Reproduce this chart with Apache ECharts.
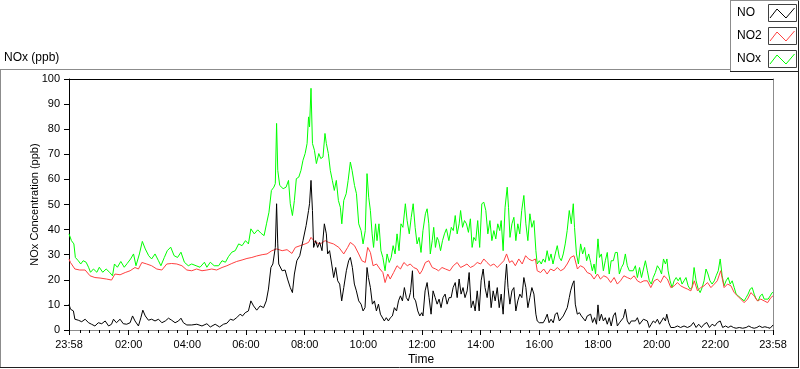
<!DOCTYPE html>
<html>
<head>
<meta charset="utf-8">
<script src="https://cdn.jsdelivr.net/npm/echarts@6/dist/echarts.min.js"></script>
<style>
html,body{margin:0;padding:0;background:#fff;}
#chart{width:800px;height:369px;}
</style>
</head>
<body>
<div id="chart"></div>
<script>
// Time is stored as minutes elapsed since 23:58 (start of the record); values in ppb.
const seriesNames = ['NO', 'NO2', 'NOx'];
const seriesColors = ['#000000', '#ff4040', '#00ff00'];
const xTickLabels = ['23:58','02:00','04:00','06:00','08:00','10:00','12:00','14:00','16:00','18:00','20:00','22:00','23:58'];
const yTicks = [0,10,20,30,40,50,60,70,80,90,100];

const NOx = [[0,38.3],[5,35.6],[10,34.3],[13,28.9],[19,27.6],[24,26.3],[29,27.6],[35,27],[40,25],[44,23],[50,24.3],[57,23],[62,25],[69,23],[76,24.3],[83,23],[89,21.6],[93,26.3],[99,25],[106,27.3],[113,25],[119,26.5],[126,28.3],[132,30.3],[137,25.6],[144,30.3],[150,35.3],[156,32.3],[163,29.6],[169,28.3],[176,30.3],[183,27.6],[188,25.6],[195,28.9],[201,31.6],[208,33],[215,29.6],[222,28.9],[229,31],[236,27],[244,25.6],[251,26.3],[260,25.6],[268,25],[277,27],[282,25],[289,27],[297,25.6],[306,25.6],[313,27.6],[320,27],[326,29.2],[333,31],[340,31.6],[347,34.3],[354,33.6],[361,35.6],[367,34.3],[372,40.3],[379,38.3],[386,39.9],[393,38.5],[399,37.6],[404,42.3],[409,46.9],[414,55.6],[419,56.9],[422,58.3],[424.6,82.3],[427,63.6],[431,57.6],[438,56.3],[444,56.9],[449,59.6],[452.6,50.3],[457,45.6],[461,51.6],[465,60.3],[470,60.9],[474.5,63.6],[478.6,67.6],[483,70.3],[487,74.3],[490,84.9],[492,80.9],[495,96.3],[498,74.3],[502,71.6],[506,66.3],[511,70.3],[515,68.3],[519.5,68.9],[523.6,78.3],[526.4,74.3],[530.5,70.3],[534.5,63.6],[538.6,59.6],[542.7,55.6],[546.8,59.6],[551,51.6],[555,48.9],[558,42.3],[562,51.6],[567,54.3],[571,59.6],[575.5,66.9],[579,63.6],[584,57.6],[588,54.3],[592.6,42.3],[597.4,39.6],[601.5,34.3],[606,39.6],[609.6,62.3],[613,52.9],[616.5,47.6],[620,38.3],[623,32.9],[627,42.3],[630,35.6],[634,42.3],[638,31.6],[642,28.9],[646.5,23.6],[650.6,30.3],[655,26.9],[659,28.9],[663,33.6],[667,30.3],[671,38.3],[675,31.6],[679,42.3],[683,40.9],[688,50.3],[691.6,43.6],[696,38.3],[700,44.9],[704,50.3],[708,40.9],[712,34.3],[716,36.9],[720,30.9],[724,39.6],[729,46.3],[732.5,48.3],[736,42.3],[739,30.3],[743,35.6],[746,40.9],[749.5,32.9],[753,36.9],[756,35.6],[760,31.6],[764,35.6],[768,38.3],[772,40.3],[777,35.6],[782,40.9],[786,39.6],[790,45.6],[794,38.3],[798,42.3],[801,47.6],[805,40.9],[809,43.6],[813,42.3],[817,38.9],[821,44.3],[824.6,32.9],[828,36.9],[832,35.6],[836,43.6],[840,32.9],[844.4,50.3],[848.5,50.9],[852.6,47.6],[856.7,38.3],[861,43.6],[865,35.6],[869,39.6],[873,36.3],[877,42.3],[881,39.6],[884,43.6],[888,31.6],[892,48.9],[896.3,56.9],[899,48.9],[902,36.9],[906,42.3],[910,44.9],[914,35.6],[918,42.3],[922,38.3],[926,47.6],[930.4,53.6],[934.5,42.3],[938.6,35.6],[942.7,46.3],[946.8,40.9],[951,43.6],[955,31.6],[957.7,26.3],[962,27.6],[966,26.3],[970,28.3],[974,27],[978,31.6],[982,27.6],[986,30.3],[990,26.3],[994.6,30.3],[998.7,33.6],[1003,28.9],[1007,27.6],[1011,30.3],[1015,34.3],[1019,39.6],[1023.3,47.6],[1027.4,42.3],[1031.5,50.3],[1034,40.9],[1038,30.3],[1042,26.3],[1046.5,34.3],[1050.6,30.3],[1054.7,32.9],[1058.8,27.6],[1063,30.3],[1067,26.9],[1070.5,23.6],[1074,26.3],[1077,22.3],[1082,36.3],[1085,28.9],[1089,30.3],[1093,23.6],[1097,27.6],[1101,30.9],[1105,22.3],[1109,27.6],[1113.4,27.6],[1117.5,30.9],[1121.6,30.9],[1125.7,22.3],[1130,24.9],[1134,26.3],[1138,30.3],[1142,25.6],[1146,23.6],[1150,24.3],[1154,23.6],[1158.5,25.6],[1162.6,20.9],[1167,24.9],[1171,20.9],[1175,20.9],[1179,27.6],[1183,23.6],[1187,19.6],[1191,18.3],[1195,20.9],[1199.4,22.9],[1203.5,25.6],[1208,24.3],[1212,22.3],[1216,28.3],[1220,26.3],[1223,28.3],[1225.4,23.6],[1229.5,19.6],[1233.6,16.9],[1237.7,19.6],[1242,20.9],[1246,19.6],[1250,20.9],[1254,18.3],[1258,19.6],[1262,20.9],[1266.4,17.6],[1270.4,16.3],[1274.5,16.9],[1278.6,24.9],[1282.7,19.6],[1287,16.3],[1291,14.9],[1295,16.9],[1299,19.6],[1303,24.3],[1307,22.3],[1311,19.6],[1315.5,18.3],[1320,19.6],[1323.7,21.6],[1328,23.6],[1332,28.3],[1336,21.6],[1340,17.6],[1344,19.6],[1348.3,20.9],[1352.4,18.3],[1356.5,19.6],[1360.6,16.9],[1364.6,14.3],[1368.7,13.6],[1373,12.9],[1377,12.3],[1381,11.6],[1385,12.9],[1389,14.3],[1393.3,16.3],[1397.4,16.9],[1401.5,14.3],[1405.6,12.3],[1409.7,11.6],[1413.8,13.6],[1418,14.3],[1422,12.3],[1426,11.6],[1430,12.3],[1434.3,13.6],[1438.4,14.9],[1440,15]];

const NO2 = [[0,28.3],[3,26.9],[12,24.3],[22,23.9],[33,23.9],[43,21.6],[53,20.9],[63.5,20.7],[77,20.3],[87,19.9],[94,22.3],[104.5,22],[115,22.9],[125,23.6],[135,24.9],[142,24.3],[149,26.9],[159,26.3],[169,25.6],[179.5,24.3],[190,23.9],[200,26.3],[210,26.5],[220.5,26.3],[231,25.6],[241,23.9],[251,23.6],[261,24.3],[272,23.6],[282,23.9],[292,24.3],[302,23.9],[313,24.9],[323,25.6],[333,26.5],[343,27.3],[354,27.9],[364,28.5],[374,28.9],[384,29.5],[395,30],[405,30.3],[415,31.6],[425,32.3],[436,31.6],[446,32],[456,30.5],[463,32.9],[473,33.6],[483,34.3],[490,34.9],[495,36.9],[504,34.9],[514,34.3],[524,35.6],[531,34.9],[541,34.3],[552,32.9],[562,30.3],[570,32.9],[575.5,34.9],[584,33.6],[592.6,30.3],[599,27.6],[606,26.9],[611,32.9],[616.5,30.9],[622,25.6],[629,26.3],[636,24.3],[642,22.9],[646.5,18.9],[652,22.3],[657,20.3],[664,22.9],[671,25.6],[678,24.3],[685,26.9],[692,25.6],[698,26.3],[705,24.9],[712,24.3],[717.5,22.3],[722,23.6],[729,26.9],[736,27.6],[743,24.9],[750,24.3],[756,23.6],[763,24.9],[770,24.3],[779,23.6],[786,25.6],[794,26.9],[801,24.9],[808,25.6],[814,26.3],[821,24.9],[828,25.6],[835,26.9],[842,26.3],[848.5,28.3],[855,26.9],[862,25.6],[869,26.3],[876,24.9],[883,26.3],[889.5,27.6],[895,30.3],[901,26.9],[906.5,27.6],[913,25.6],[920,28.3],[927,26.3],[934,29.6],[940,28.3],[947.5,27.6],[954,28.3],[957.7,23.6],[964.6,22.9],[971,24.3],[978,22.3],[985,24.3],[992,23.6],[999,24.9],[1005.5,23.6],[1012,24.3],[1019,26.3],[1026,28.9],[1033,29.6],[1040,24.3],[1046,25.6],[1053,24.9],[1060,22.9],[1067,22.3],[1074,20.3],[1081,22.3],[1087,20.3],[1094,21.6],[1101,20.9],[1108,18.9],[1115,20.9],[1121.6,18.3],[1128,19.6],[1135,21.6],[1142,20.9],[1149,20.3],[1156,21.6],[1162.6,19.6],[1169,18.9],[1176,19.6],[1183,19.6],[1190,16.9],[1197,19.6],[1203.5,20.3],[1210,18.9],[1217,21.6],[1224,20.3],[1231,16.9],[1238,17.6],[1244.5,18.9],[1251,17.6],[1258,16.9],[1265,16.3],[1272,15.6],[1279,19.6],[1285.5,15.6],[1292,16.9],[1299,17.6],[1306,18.9],[1313,16.9],[1320,18.3],[1326,19.6],[1333,23.6],[1340,16.9],[1347,18.3],[1354,17.6],[1360.6,14.9],[1367.4,13.6],[1374,12.3],[1381,10.9],[1388,12.3],[1394.7,14.9],[1401.5,13.6],[1408,11.6],[1415,12.3],[1422,11.6],[1429,10.9],[1435.6,12.9],[1440,13.6]];

const NO = [[0,10.3],[3,8.3],[9,7.6],[12,4.3],[19,3.9],[26,3.3],[33,4.3],[40,2.9],[46,2.3],[53,1.6],[60,2.9],[67,2.5],[74,3.6],[81,1.6],[87,2.3],[91,4.3],[97,2.9],[104.5,4.3],[111,2.5],[118,2.3],[125,2.9],[130,5.6],[135,3.6],[142,1.6],[147,4.9],[151,7.9],[156,5.6],[162.5,3.9],[169,4.3],[176,3.6],[183,4.3],[190,2.9],[197,3.6],[203.5,4.7],[210,3.9],[217,2.9],[224,3.6],[229,4.7],[234,2.9],[241,2],[251,2],[261.5,2.3],[272,1.6],[282,2.5],[289,1.2],[299,2.3],[308,1.2],[316,2.3],[323,2.7],[330,4.3],[336,3.9],[343,4.9],[350,6.3],[355,5.6],[360.5,6.9],[367,7.6],[372,11.6],[377.5,9.6],[384,7.9],[391,9.6],[398,8.9],[403.5,11.6],[408,16.3],[413,24.9],[417,26.3],[422,32.9],[424.6,50.3],[427,34.3],[429,26.3],[436,23.6],[442,23.9],[447,20.3],[452.6,16.9],[457,14.9],[461,22.3],[466,27.6],[472,29.6],[478.6,35.6],[485,41.6],[490,47.6],[492,50.3],[495,59.6],[498,47.6],[500.4,32.9],[504.5,35.6],[508.6,32.9],[512.7,34.9],[517.5,31.6],[522.3,42.3],[526.4,38.3],[529,30.3],[533,31.6],[537.3,26.3],[541.4,20.9],[545.5,24.9],[549.6,19.6],[553.7,18.3],[557.8,11.6],[562,16.9],[567.3,23.6],[572,27.6],[575.5,28.9],[579.6,24.9],[583.7,18.3],[587.8,15.6],[592.6,11.6],[597.4,10.3],[601.5,7.6],[605.5,8.9],[609.6,24.9],[612.4,20.9],[616.5,16.9],[620.6,10.3],[624.7,11.6],[628.8,7.6],[633,10.3],[637,6.3],[641,6.9],[645,3.6],[649,4.9],[653.3,3.6],[657.4,4.9],[661.5,5.6],[665.6,8.9],[670,7.6],[674,11.6],[678,13.6],[682,11.6],[686,16.9],[690,12.9],[694,11.6],[698.4,14.9],[702.5,23.6],[705,12.9],[709,11.6],[713.4,7.6],[717.5,5.6],[721.6,6.9],[724,5.6],[728.4,15.6],[732.5,18.9],[736.5,12.9],[740.6,6.3],[744.7,15.6],[749,12.9],[753,10.3],[757,12.3],[761,8.9],[765,12.9],[769.3,14.3],[773.4,10.3],[777.5,12.9],[781.6,12.9],[785.7,16.9],[790,18.9],[794,12.9],[798,20.3],[802,14.3],[806,16.9],[810,12.9],[814.4,15.6],[818.5,22.9],[822.6,8.9],[826.7,11.6],[830.8,7.6],[835,15.6],[839,7.6],[843,19.6],[847.2,24.3],[851,16.9],[855.3,12.9],[859.4,19.6],[863.5,8.9],[867.6,15.6],[871.7,11.6],[876,16.9],[880,8.9],[884,14.3],[888,6.3],[892.2,19.6],[895,26.3],[898,16.9],[901.8,10.3],[906,15.6],[910,16.9],[914,7.6],[918,11.6],[922.2,14.3],[926.3,12.9],[930.4,20.9],[934.5,16.9],[938.6,8.9],[942.7,12.9],[946.8,16.9],[951,14.3],[955,6.3],[957.7,3.6],[962,2.9],[966,3.6],[970,2.9],[974,4.3],[978.2,6.3],[982,2.9],[986,4.3],[990.5,2.9],[994.6,6.3],[998.7,6.9],[1003,3.6],[1007,3.6],[1011,5.6],[1015,6.3],[1019.2,8.9],[1023.3,12.9],[1026,15.6],[1030,18.3],[1033,19.6],[1035.6,10.3],[1039.7,6.3],[1044,6.9],[1048,5.6],[1052,6.3],[1056,3.6],[1060,5.6],[1064,4.9],[1067,6.3],[1071,3],[1075,4.9],[1079,2.3],[1082,10],[1085,3.6],[1089,6.3],[1093,3.6],[1097,4.9],[1101,2.3],[1105,4.9],[1109,1.6],[1113.4,5.6],[1117.5,6.9],[1121.6,1.6],[1126,2.9],[1130,3.6],[1134,4.9],[1138,8.3],[1142,3.6],[1146,2.3],[1150,3.6],[1154,2.9],[1158.5,3.6],[1162.6,4.9],[1167,2.3],[1171,1.6],[1175,4.3],[1179,4.9],[1183,3.6],[1187,1],[1191,2.3],[1195,3.6],[1199.4,2.9],[1203.5,4.3],[1208,2.3],[1212,3.6],[1216,4.9],[1220,3.6],[1222.7,6.3],[1226.8,2.9],[1231,1],[1238,1],[1244.5,1.6],[1251,1],[1258,1.6],[1265,1],[1271.8,1.6],[1277.3,3],[1282.7,1],[1288,2.3],[1293.7,1],[1299,2.3],[1304.6,3],[1310,1],[1315.5,2.3],[1321,1.6],[1326.4,3],[1332,3.6],[1337,1],[1343,1.6],[1348.3,1],[1354,1.6],[1359,1],[1364.6,0.7],[1371,1],[1378,0.7],[1385,1],[1390.6,1.6],[1396,1],[1401.5,0.7],[1407,1],[1412,1.6],[1418,1],[1423.4,1.3],[1429,1],[1434,0.7],[1438.4,1.6],[1440,2]];

// ---- axis helpers ----
const START_CLOCK = 23 * 60 + 58; // record starts at 23:58
const SPAN = 1440;
function clockToElapsed(str, idx, arr) {
  if (idx === 0) return 0;
  if (idx === arr.length - 1) return SPAN;
  const [h, m] = str.split(':').map(Number);
  return ((h * 60 + m) - START_CLOCK + SPAN) % SPAN;
}
const majorTicks = xTickLabels.map(clockToElapsed);
const minorTicks = [];
for (let c = 20; c < SPAN; c += 20) {
  if (c % 120 !== 0) minorTicks.push((c - START_CLOCK + SPAN) % SPAN);
}
minorTicks.sort((a, b) => a - b);
function labelFor(v) {
  const i = majorTicks.findIndex(t => Math.abs(t - v) < 0.5);
  return i >= 0 ? xTickLabels[i] : '';
}

const FONT = 'Liberation Sans';
const chart = echarts.init(document.getElementById('chart'), null, {renderer: 'canvas'});

const dataSets = {NO: NO, NO2: NO2, NOx: NOx};
const drawOrder = ['NOx', 'NO2', 'NO'];

// legend drawn as graphic (LabVIEW style box with plot samples)
const legendGraphics = [];
seriesNames.forEach((name, i) => {
  const y = 4 + i * 23;
  legendGraphics.push({type: 'text', left: 737, top: y + 3, style: {text: name, fill: '#000', font: '12px ' + FONT}});
  legendGraphics.push({type: 'rect', shape: {x: 768.5, y: y + 0.5, width: 28, height: 17}, style: {fill: '#fff', stroke: '#404040', lineWidth: 1}});
  legendGraphics.push({type: 'polyline', shape: {points: [[770, y + 14], [777, y + 5], [786, y + 14], [794.5, y + 4]]}, style: {stroke: seriesColors[i], lineWidth: 1, fill: null}});
});

const frame = [
  {type: 'line', shape: {x1: 0, y1: 69.5, x2: 730, y2: 69.5}, style: {stroke: '#8c8c8c', lineWidth: 1}},
  {type: 'line', shape: {x1: 0.5, y1: 69.5, x2: 0.5, y2: 368}, style: {stroke: '#8c8c8c', lineWidth: 1}},
  {type: 'line', shape: {x1: 0, y1: 367.5, x2: 799, y2: 367.5}, style: {stroke: '#202020', lineWidth: 1}},
  {type: 'line', shape: {x1: 798.5, y1: 0, x2: 798.5, y2: 368}, style: {stroke: '#202020', lineWidth: 1}},
  {type: 'line', shape: {x1: 730.5, y1: 0, x2: 730.5, y2: 72}, style: {stroke: '#8c8c8c', lineWidth: 1}},
  {type: 'line', shape: {x1: 730, y1: 0.5, x2: 799, y2: 0.5}, style: {stroke: '#8c8c8c', lineWidth: 1}},
  {type: 'line', shape: {x1: 730, y1: 71.5, x2: 799, y2: 71.5}, style: {stroke: '#202020', lineWidth: 1}}
];

const option = {
  animation: false,
  backgroundColor: '#ffffff',
  textStyle: {fontFamily: FONT},
  title: {text: 'NOx (ppb)', left: 4, top: 52, padding: 0, textStyle: {fontSize: 12, fontWeight: 'normal', color: '#000', fontFamily: FONT}},
  grid: {left: 69, right: 27, top: 79, bottom: 39, containLabel: false, outerBoundsMode: 'none'},
  xAxis: [
    {
      type: 'value', min: 0, max: SPAN, position: 'bottom',
      name: 'Time', nameLocation: 'middle', nameGap: 24, nameMoveOverlap: false,
      nameTextStyle: {fontSize: 12, color: '#000', fontFamily: FONT},
      axisLine: {show: true, onZero: false, lineStyle: {color: '#8c8c8c', width: 1}},
      axisTick: {show: true, customValues: majorTicks, length: 5, lineStyle: {color: '#000', width: 1}},
      axisLabel: {show: true, customValues: majorTicks, formatter: labelFor, fontSize: 11, color: '#000', margin: 9, fontFamily: FONT},
      splitLine: {show: false}
    },
    {
      type: 'value', min: 0, max: SPAN, position: 'bottom',
      axisLine: {show: false, onZero: false},
      axisTick: {show: true, customValues: minorTicks, length: 3, lineStyle: {color: '#000', width: 1}},
      axisLabel: {show: false},
      splitLine: {show: false}
    },
    {
      type: 'value', min: 0, max: SPAN, position: 'top',
      axisLine: {show: true, onZero: false, lineStyle: {color: '#000', width: 1}},
      axisTick: {show: false}, axisLabel: {show: false}, splitLine: {show: false}
    }
  ],
  yAxis: [
    {
      type: 'value', min: 0, max: 100, interval: 10,
      name: 'NOx Concentration (ppb)', nameLocation: 'middle', nameGap: 29, nameMoveOverlap: false,
      nameTextStyle: {fontSize: 11, color: '#000', fontFamily: FONT},
      axisLine: {show: true, onZero: false, lineStyle: {color: '#000', width: 1}},
      axisTick: {show: true, length: 5, lineStyle: {color: '#000', width: 1}},
      axisLabel: {fontSize: 11, color: '#000', margin: 9, fontFamily: FONT,
        formatter: v => (yTicks.indexOf(v) >= 0 ? String(v) : '')},
      splitLine: {show: false}
    },
    {
      type: 'value', min: 0, max: 100, position: 'right',
      axisLine: {show: true, onZero: false, lineStyle: {color: '#8c8c8c', width: 1}},
      axisTick: {show: false}, axisLabel: {show: false}, splitLine: {show: false}
    }
  ],
  series: drawOrder.map(name => ({
    name: name,
    type: 'line',
    xAxisIndex: 0,
    yAxisIndex: 0,
    data: dataSets[name],
    showSymbol: false,
    symbol: 'none',
    smooth: false,
    clip: true,
    lineStyle: {color: seriesColors[seriesNames.indexOf(name)], width: 1},
    itemStyle: {color: seriesColors[seriesNames.indexOf(name)]},
    emphasis: {disabled: true}
  })),
  graphic: frame.concat(legendGraphics)
};
chart.setOption(option);
</script>
</body>
</html>
